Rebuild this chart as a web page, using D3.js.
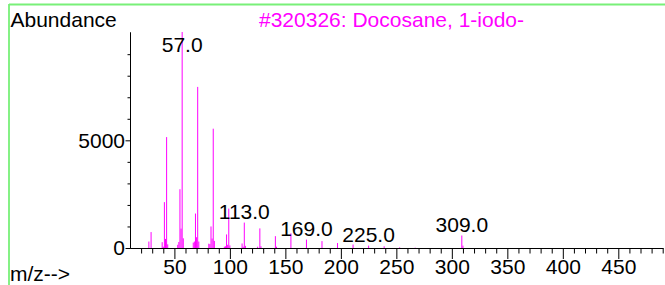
<!DOCTYPE html>
<html>
<head>
<meta charset="utf-8">
<script src="https://cdn.jsdelivr.net/npm/d3@7"></script>
<style>
  html, body { margin: 0; padding: 0; background: #fff; }
  svg { display: block; font-family: "Liberation Sans", Arial, sans-serif; }
</style>
</head>
<body>
<svg id="chart" width="665" height="285"></svg>
<script>
// spectrum data
const mzValues = [27, 29, 39, 40, 41, 42, 43, 44, 53, 54, 55, 56, 57, 58,
    67, 68, 69, 70, 71, 72, 81, 82, 83, 84, 85, 86, 95, 96, 97, 98, 99, 100,
    111, 112, 113, 114, 125, 127, 128, 141, 142, 155, 169, 183, 197, 211,
    225, 239, 253, 267, 309, 310];
const abundances = [300, 740, 270, 60, 2130, 420, 5150, 170, 150, 280, 2730, 900, 10030, 450,
    250, 300, 1600, 500, 7480, 300, 200, 180, 1000, 440, 5540, 330, 60, 80, 630, 150, 1830, 120,
    210, 60, 1180, 100, 60, 910, 80, 550, 60, 680, 390, 320, 230, 160,
    110, 80, 30, 15, 580, 110];
const labeledMz = [57, 113, 169, 225, 309];
const title = '#320326: Docosane, 1-iodo-';

const xMajorTicks = [50, 100, 150, 200, 250, 300, 350, 400, 450];
const xMinorTicks = d3.range(20, 491, 10).filter(v => v % 50 !== 0);
const yMajorTicks = [0, 5000];
const yMinorTicks = [1000, 2000, 3000, 4000, 6000, 7000, 8000, 9000];

const svg = d3.select('#chart');

const x = d3.scaleLinear().domain([10, 490]).range([130, 662.7]);
const y = d3.scaleLinear().domain([0, 10030]).range([248, 32]);

// green frame (top and left edges only)
svg.append('line').attr('x1', 9).attr('x2', 665).attr('y1', 4.5).attr('y2', 4.5)
    .attr('stroke', '#78f078').attr('stroke-width', 1.8);
svg.append('line').attr('x1', 9).attr('x2', 9).attr('y1', 4).attr('y2', 285)
    .attr('stroke', '#78f078').attr('stroke-width', 1.8);

// peaks
svg.append('g').selectAll('line')
    .data(mzValues)
    .enter()
    .append('line')
    .attr('x1', (d) => x(d))
    .attr('x2', (d) => x(d))
    .attr('y1', y(0))
    .attr('y2', (d, i) => y(abundances[i]))
    .attr('stroke', '#ff00ff')
    .attr('stroke-width', 1);

// x axis
const gxMinor = svg.append('g')
    .attr('transform', 'translate(0,248)')
    .call(d3.axisBottom(x).tickValues(xMinorTicks).tickSize(5.5).tickSizeOuter(0).tickFormat(''));
const gx = svg.append('g')
    .attr('transform', 'translate(0,248)')
    .call(d3.axisBottom(x).tickValues(xMajorTicks).tickSize(11).tickSizeOuter(0));
gx.selectAll('text').attr('y', 25.5).attr('dy', null)
    .attr('font-size', 21).attr('font-family', null).attr('fill', '#000');

// y axis
const gyMinor = svg.append('g')
    .attr('transform', 'translate(130,0)')
    .call(d3.axisLeft(y).tickValues(yMinorTicks).tickSize(2.5).tickSizeOuter(0).tickFormat(''));
const gy = svg.append('g')
    .attr('transform', 'translate(130,0)')
    .call(d3.axisLeft(y).tickValues(yMajorTicks).tickSize(4.5).tickSizeOuter(0).tickFormat(d3.format('d')));
gy.selectAll('text').attr('x', -5).attr('font-size', 21).attr('font-family', null).attr('fill', '#000');

svg.selectAll('.domain, .tick line').attr('stroke', '#000');

// peak labels
svg.append('g').selectAll('text')
    .data(labeledMz)
    .enter()
    .append('text')
    .attr('x', (d) => x(d))
    .attr('y', (d) => Math.max(y(abundances[mzValues.indexOf(d)]) - 4, 51.7))
    .attr('text-anchor', 'middle')
    .attr('font-size', 21)
    .attr('fill', '#000')
    .text((d) => d3.format('.1f')(d));

// texts
svg.append('text').attr('x', 10.5).attr('y', 26.5).attr('font-size', 21).attr('fill', '#000').text('Abundance');
svg.append('text').attr('x', 259).attr('y', 26.5).attr('font-size', 21).attr('fill', '#ff00ff').text(title);
svg.append('text').attr('x', 10).attr('y', 281).attr('font-size', 21).attr('fill', '#000').text('m/z-->');
</script>
</body>
</html>
